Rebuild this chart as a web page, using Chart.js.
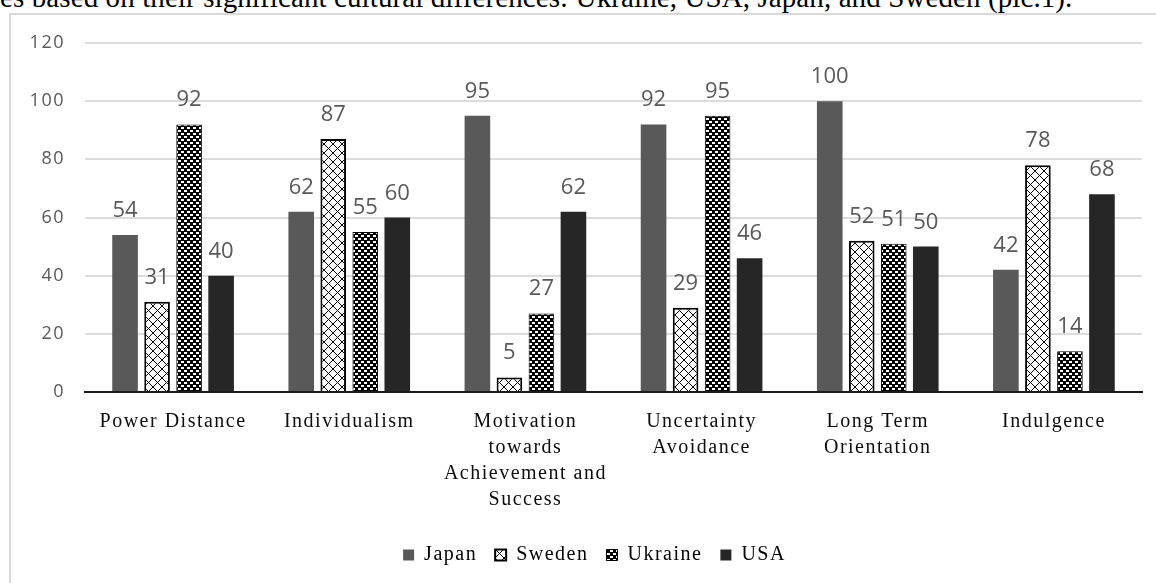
<!DOCTYPE html>
<html>
<head>
<meta charset="utf-8">
<script src="https://cdn.jsdelivr.net/npm/chart.js@4.4.1/dist/chart.umd.min.js"></script>
<style>
  html, body { margin: 0; padding: 0; background: #fff; }
  body { width: 1156px; height: 583px; position: relative; overflow: hidden; }
  #caption { position: absolute; left: 0; top: -17px; font: 29px/29px "Liberation Serif", "Times New Roman", serif; letter-spacing: 0.1px; color: #000; white-space: nowrap; }
  #frame { position: absolute; left: 9px; top: 13px; width: 1200px; height: 600px; border-top: 2px solid #d9d9d9; border-left: 2px solid #d9d9d9; }
  #chart { position: absolute; left: 0; top: 0; }
</style>
</head>
<body>
<div id="caption">es based on their significant cultural differences: Ukraine, USA, Japan, and Sweden (pic.1).</div>
<div id="frame"></div>
<canvas id="chart" width="1156" height="583"></canvas>
<script>
const categories = [
  ['Power Distance'],
  ['Individualism'],
  ['Motivation', 'towards', 'Achievement and', 'Success'],
  ['Uncertainty', 'Avoidance'],
  ['Long Term', 'Orientation'],
  ['Indulgence']
];
const japan = [54, 62, 95, 92, 100, 42];
const sweden = [31, 87, 5, 29, 52, 78];
const ukraine = [92, 55, 27, 95, 51, 14];
const usa = [40, 60, 62, 46, 50, 68];
const yMin = 0;
const yMax = 120;
const yStep = 20;

function makePattern (size, paint) {
  const c = document.createElement('canvas');
  c.width = size[0];
  c.height = size[1];
  paint(c.getContext('2d'));
  return c.getContext('2d').createPattern(c, 'repeat');
}

// white with a black lattice
const latticePattern = makePattern([9, 9], ctx => {
  ctx.fillStyle = '#fff';
  ctx.fillRect(0, 0, 9, 9);
  ctx.strokeStyle = '#000';
  ctx.lineWidth = 1;
  ctx.beginPath();
  ctx.moveTo(0, 0); ctx.lineTo(9, 9);
  ctx.moveTo(9, 0); ctx.lineTo(0, 9);
  ctx.stroke();
});

// black with small staggered white dashes
const dashPattern = makePattern([6, 6], ctx => {
  ctx.fillStyle = '#000';
  ctx.fillRect(0, 0, 6, 6);
  ctx.fillStyle = '#fff';
  ctx.fillRect(1, 1, 3, 2);
  ctx.fillRect(4, 4, 2, 2);
  ctx.fillRect(0, 4, 1, 2);
});

const letterSpacing = {
  id: 'letterSpacing',
  beforeLayout (chart) { chart.ctx.letterSpacing = '1.5px'; },
  beforeDraw (chart) { chart.ctx.letterSpacing = '1.5px'; }
};

// legend sits a little right of the canvas centre
const legendShift = {
  id: 'legendShift',
  afterLayout (chart) {
    chart.legend.left = 47;
    chart.legend.width = chart.legend.right - chart.legend.left;
  }
};

const valueLabels = {
  id: 'valueLabels',
  afterDatasetsDraw (chart) {
    const ctx = chart.ctx;
    ctx.save();
    ctx.letterSpacing = '0px';
    ctx.font = '22px "Open Sans"';
    ctx.fillStyle = '#595959';
    ctx.textAlign = 'center';
    ctx.textBaseline = 'alphabetic';
    chart.data.datasets.forEach((ds, i) => {
      chart.getDatasetMeta(i).data.forEach((bar, j) => {
        ctx.fillText(ds.data[j], bar.x, bar.y - 18);
      });
    });
    ctx.restore();
    ctx.letterSpacing = '1.5px';
  }
};

// eslint-disable-next-line no-undef
const chart = new Chart('chart', {
  type: 'bar',
  data: {
    labels: categories,
    datasets: [
      { label: 'Japan', data: japan, backgroundColor: '#595959', borderWidth: 0 },
      { label: 'Sweden', data: sweden, backgroundColor: latticePattern, borderColor: '#000', borderWidth: 2 },
      { label: 'Ukraine', data: ukraine, backgroundColor: dashPattern, borderColor: '#000', borderWidth: 1 },
      { label: 'USA', data: usa, backgroundColor: '#262626', borderWidth: 0 }
    ]
  },
  options: {
    responsive: false,
    animation: false,
    categoryPercentage: 0.727,
    barPercentage: 0.8,
    layout: { padding: { top: 43, left: 0, right: 14, bottom: 8 } },
    plugins: {
      tooltip: { enabled: false },
      legend: {
        position: 'bottom',
        labels: {
          color: '#000',
          font: { family: '"Liberation Serif", "Times New Roman", serif', size: 20 },
          boxWidth: 11,
          boxHeight: 11,
          padding: 18
        }
      }
    },
    scales: {
      x: {
        grid: { display: false },
        border: { color: '#1a1a1a', width: 2 },
        ticks: {
          color: '#0d0d0d',
          font: { family: '"Liberation Serif", "Times New Roman", serif', size: 20, lineHeight: 1.3 },
          padding: 9,
          maxRotation: 0,
          autoSkip: false
        },
        afterFit: scale => { scale.height = 135; }
      },
      y: {
        min: yMin,
        max: yMax,
        grid: { color: '#dcdcdc', lineWidth: 2, drawTicks: false },
        border: { display: false },
        ticks: {
          stepSize: yStep,
          color: '#595959',
          font: { family: '"Open Sans"', size: 18 },
          padding: 20
        },
        afterFit: scale => { scale.width = 85; }
      }
    }
  },
  plugins: [letterSpacing, legendShift, valueLabels]
});
</script>
</body>
</html>
